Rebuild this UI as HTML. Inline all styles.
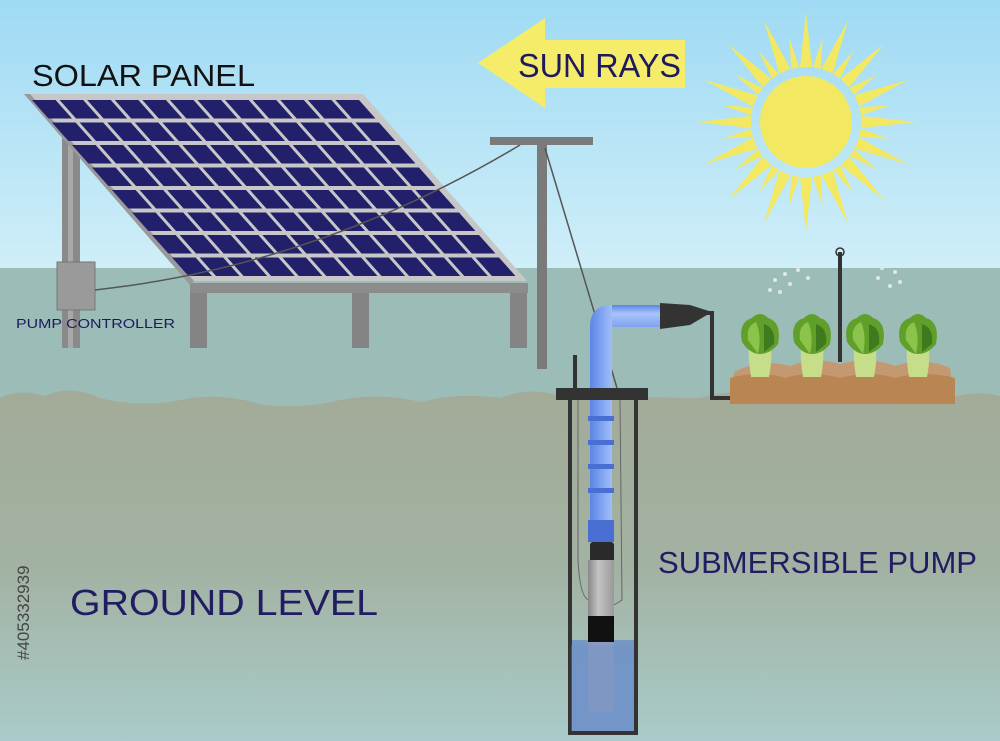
<!DOCTYPE html>
<html><head><meta charset="utf-8"><style>
html,body{margin:0;padding:0;width:1000px;height:741px;overflow:hidden}
svg{display:block}
text{font-family:"Liberation Sans","DejaVu Sans",sans-serif}
</style></head><body>
<svg width="1000" height="741" viewBox="0 0 1000 741" xmlns="http://www.w3.org/2000/svg">
<defs>
<linearGradient id="sky" x1="0" y1="0" x2="0" y2="1">
<stop offset="0" stop-color="#9fdaf4"/><stop offset="1" stop-color="#cfeef8"/></linearGradient>
<linearGradient id="gr" x1="0" y1="0" x2="0" y2="1">
<stop offset="0" stop-color="#a3ab98"/><stop offset="0.5" stop-color="#a2b2a2"/><stop offset="1" stop-color="#a9cbc9"/></linearGradient>
<linearGradient id="pipe" x1="0" y1="0" x2="1" y2="0">
<stop offset="0" stop-color="#5a86e6"/><stop offset="0.35" stop-color="#a9c4fb"/><stop offset="1" stop-color="#7ea2f0"/></linearGradient>
<linearGradient id="pipeh" x1="0" y1="0" x2="0" y2="1">
<stop offset="0" stop-color="#5a86e6"/><stop offset="0.4" stop-color="#a9c4fb"/><stop offset="1" stop-color="#7ea2f0"/></linearGradient>
<linearGradient id="pb" x1="0" y1="0" x2="1" y2="0">
<stop offset="0" stop-color="#888"/><stop offset="0.4" stop-color="#c4c4c4"/><stop offset="1" stop-color="#999"/></linearGradient>
<g id="let">
<path d="M-9 45 Q-13 20 -10 8 L10 8 Q13 25 9 45 Z" fill="#c6dd8a"/>
<path d="M-18 10 Q-22 -10 -8 -14 Q0 -22 8 -14 Q22 -10 18 12 Q10 22 0 22 Q-10 22 -18 10Z" fill="#5f9f2a"/>
<path d="M-12 8 Q-14 -6 -4 -10 Q2 4 -2 22Z" fill="#8cc34a"/>
<path d="M4 -8 Q16 -4 14 12 L4 20Z" fill="#3f7a1e"/>
</g>
</defs>
<rect width="1000" height="268" fill="url(#sky)"/>
<rect y="268" width="1000" height="140" fill="#9cbdb7"/>
<path d="M0 398 Q20 388 45 396 Q70 384 100 398 Q140 408 180 400 Q220 392 260 404 Q300 410 340 400 Q380 392 420 402 Q460 392 500 398 Q530 386 560 396 L700 398 Q740 386 780 398 Q830 390 870 396 Q910 386 950 398 Q975 390 1000 396 L1000 741 L0 741Z" fill="url(#gr)"/>
<g transform="translate(806,122)" fill="#f3e862">
<circle r="46"/>
<g id="rays">
<polygon points="-6,-55 0,-110 6,-55"/>
<polygon points="-4,-55 0,-85 4,-55" transform="rotate(11.25)"/>
</g>
<use href="#rays" transform="rotate(22.5)"/><use href="#rays" transform="rotate(45)"/><use href="#rays" transform="rotate(67.5)"/>
<use href="#rays" transform="rotate(90)"/><use href="#rays" transform="rotate(112.5)"/><use href="#rays" transform="rotate(135)"/>
<use href="#rays" transform="rotate(157.5)"/><use href="#rays" transform="rotate(180)"/><use href="#rays" transform="rotate(202.5)"/>
<use href="#rays" transform="rotate(225)"/><use href="#rays" transform="rotate(247.5)"/><use href="#rays" transform="rotate(270)"/>
<use href="#rays" transform="rotate(292.5)"/><use href="#rays" transform="rotate(315)"/><use href="#rays" transform="rotate(337.5)"/>
</g>
<polygon points="478,63 545,18 545,40 685,40 685,88 545,88 545,108" fill="#f5ec6a"/>
<text x="518" y="77" font-size="33" fill="#1e1a5e" textLength="163" lengthAdjust="spacingAndGlyphs">SUN RAYS</text>
<text x="32" y="86" font-size="31" fill="#111" textLength="223" lengthAdjust="spacingAndGlyphs">SOLAR PANEL</text>
<rect x="62" y="138" width="18" height="210" fill="#8a8a8a"/>
<rect x="68" y="138" width="5" height="210" fill="#a8a8a8"/>
<rect x="190" y="286" width="17" height="62" fill="#848484"/>
<rect x="352" y="286" width="17" height="62" fill="#848484"/>
<rect x="510" y="286" width="17" height="62" fill="#848484"/>
<rect x="190" y="283" width="338" height="10" fill="#8c8c8c"/>
<polygon points="24,94 363,94 527,281 190,281" fill="#c7c7c7"/>
<polygon points="24,94 30,94 194,281 190,285" fill="#999"/>
<g id="cells"></g>
<rect x="57" y="262" width="38" height="48" fill="#9a9a9a" stroke="#777"/>
<path d="M95 290 Q320 265 520 145" fill="none" stroke="#555" stroke-width="1.5"/>
<rect x="490" y="137" width="103" height="8" fill="#7a7a7a"/>
<rect x="537" y="145" width="10" height="224" fill="#7a7a7a"/>
<line x1="545" y1="148" x2="617" y2="388" stroke="#555" stroke-width="1.5"/>
<text x="16" y="328" font-size="13" fill="#1e1a5e" textLength="159" lengthAdjust="spacingAndGlyphs">PUMP CONTROLLER</text>
<rect x="571" y="640" width="63" height="91" fill="#6e90c8" opacity="0.85"/>
<rect x="570" y="398" width="66" height="335" fill="none" stroke="#333" stroke-width="4"/>
<path d="M578 400 L578 560 Q580 600 590 600" fill="none" stroke="#666" stroke-width="1"/>
<path d="M620 400 L622 600 L614 605" fill="none" stroke="#666" stroke-width="1"/>
<path d="M590 327 L590 540 L612 540 L612 327 L660 327 L660 305 L612 305 Q590 305 590 327Z" fill="url(#pipe)"/>
<path d="M612 305 L660 305 L660 327 L612 327Z" fill="url(#pipeh)"/>
<g fill="#4a6fd2"><rect x="588" y="416" width="26" height="5"/><rect x="588" y="440" width="26" height="5"/><rect x="588" y="464" width="26" height="5"/><rect x="588" y="488" width="26" height="5"/><rect x="588" y="520" width="26" height="22"/></g>
<rect x="590" y="542" width="24" height="20" fill="#2a2a2a" rx="3"/>
<rect x="588" y="560" width="26" height="56" fill="url(#pb)"/>
<rect x="588" y="616" width="26" height="26" fill="#111"/>
<rect x="588" y="642" width="26" height="70" fill="#8b9bbf" rx="3" opacity="0.9"/>
<rect x="571" y="645" width="63" height="86" fill="#6e90c8" opacity="0.35"/>
<rect x="556" y="388" width="92" height="12" fill="#333"/>
<rect x="573" y="355" width="4" height="34" fill="#333"/>
<polygon points="660,303 690,305 712,312 690,325 660,329" fill="#333"/>
<polyline points="705,313 712,313 712,398 732,398" fill="none" stroke="#333" stroke-width="4"/>
<rect x="838" y="252" width="4" height="110" fill="#333"/>
<circle cx="840" cy="252" r="4" fill="none" stroke="#333" stroke-width="1.5"/>
<g fill="#dde6ee">
<circle cx="775" cy="280" r="2"/><circle cx="785" cy="274" r="2"/><circle cx="798" cy="270" r="2"/><circle cx="790" cy="284" r="2"/><circle cx="770" cy="290" r="2"/><circle cx="808" cy="278" r="2"/><circle cx="780" cy="292" r="2"/>
<circle cx="870" cy="262" r="2"/><circle cx="882" cy="268" r="2"/><circle cx="895" cy="272" r="2"/><circle cx="878" cy="278" r="2"/><circle cx="900" cy="282" r="2"/><circle cx="890" cy="286" r="2"/><circle cx="905" cy="266" r="2"/>
</g>
<path d="M734 372 Q760 358 790 366 Q815 356 840 364 Q870 356 895 366 Q925 356 950 368 L955 404 L730 404Z" fill="#c49870"/>
<path d="M730 378 Q760 370 785 378 Q810 370 840 378 Q870 370 895 378 Q925 370 955 378 L955 404 L730 404Z" fill="#b98552"/>
<use href="#let" x="760" y="332"/><use href="#let" x="812" y="332"/><use href="#let" x="865" y="332"/><use href="#let" x="918" y="332"/>
<text x="70" y="615" font-size="36" fill="#221c62" textLength="308" lengthAdjust="spacingAndGlyphs">GROUND LEVEL</text>
<text x="658" y="573" font-size="31" fill="#221c62" textLength="319" lengthAdjust="spacingAndGlyphs">SUBMERSIBLE PUMP</text>
<text transform="translate(29,660) rotate(-90)" font-size="17" fill="#444">#405332939</text>
</svg>
<script>
(function(){
var g=document.getElementById('cells');
var R=8,C=12,TL=[30,98],dx=[(361-30)/C,0],dy=[(190-30)/R,(278-98)/R];
var s='';
for(var r=0;r<R;r++)for(var c=0;c<C;c++){
var x0=TL[0]+c*dx[0]+r*dy[0],y0=TL[1]+r*dy[1];
var g1=2;
var ax=x0+g1,ay=y0+g1,bx=ax+dx[0]-g1*2,by=ay,cx=bx+dy[0]*(1-2*g1/dy[1]),cy=y0+dy[1]-g1,ex=ax+dy[0]*(1-2*g1/dy[1]),ey=cy;
s+='<polygon fill="#22206a" points="'+ax+','+ay+' '+bx+','+by+' '+cx+','+cy+' '+ex+','+ey+'"/>';
}
g.innerHTML=s;
})();
</script>
</body></html>
